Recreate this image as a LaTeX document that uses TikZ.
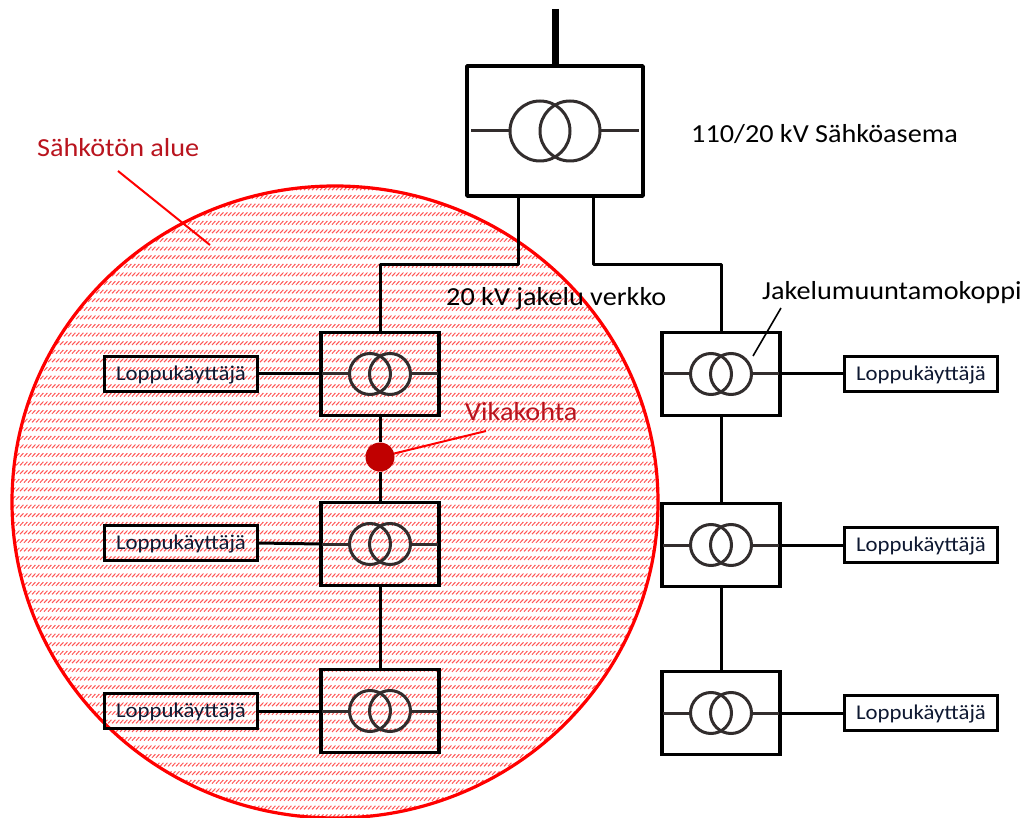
\documentclass[tikz,border=0pt]{standalone}
\usepackage{fontspec}
\setmainfont[FakeStretch=1.085]{Carlito}
\usetikzlibrary{patterns}
\definecolor{faultred}{RGB}{192,0,0}
\definecolor{hatchred}{RGB}{255,85,85}
\definecolor{labelred}{RGB}{185,20,30}
\definecolor{coil}{RGB}{50,45,45}
\definecolor{usertext}{RGB}{15,25,50}
\pgfdeclarepatternformonly{hatchrows}{\pgfqpoint{-0.5pt}{-0.5pt}}{\pgfqpoint{4.5pt}{8.2pt}}{\pgfqpoint{4pt}{8.6pt}}{%
  \pgfsetlinewidth{1pt}%
  \pgfpathmoveto{\pgfqpoint{0pt}{0pt}}%
  \pgfpathlineto{\pgfqpoint{3.4pt}{3.6pt}}%
  \pgfusepath{stroke}}
\tikzset{
  x=1pt,y=-1pt,
  station/.style={draw=black,line width=3.4pt,minimum width=176pt,minimum height=130pt,inner sep=0pt,line join=round},
  kiosk/.style={draw=black,line width=3.4pt,minimum width=118pt,minimum height=83pt,inner sep=0pt},
  user/.style={draw=black,line width=3.4pt,minimum width=153pt,minimum height=35pt,inner sep=0pt,font=\fontsize{21}{21}\selectfont,text=usertext,fill=white,text height=17pt,text depth=4pt},
  userr/.style={user,fill=none},
  wire/.style={draw=black,line width=3pt,line join=round},
  coilc/.style={draw=coil,line width=3pt,fill=none},
  redline/.style={draw=red,line width=2pt},
  biglabel/.style={font=\fontsize{26}{26}\selectfont,anchor=west,inner sep=0pt},
}
% #1 name, #2 radius, #3 half distance, #4 half-lead length
\newcommand{\xfmr}[4]{%
  \coordinate (#1l) at ([xshift=-#3pt]#1.center);
  \coordinate (#1r) at ([xshift=#3pt]#1.center);
  \draw[coilc] (#1l) circle[radius=#2pt];
  \draw[coilc] (#1r) circle[radius=#2pt];
  \draw[coilc] ([xshift=-#2pt]#1l) -- ([xshift=-#4pt]#1.center);
  \draw[coilc] ([xshift=#2pt]#1r) -- ([xshift=#4pt]#1.center);
}
\begin{document}
\begin{tikzpicture}
\useasboundingbox (0,0) rectangle (1029,818);
% area
\coordinate (areac) at (335,502);
\fill[white,postaction={pattern=hatchrows,pattern color=hatchred}] (areac) ellipse[x radius=323pt,y radius=316pt];
\draw[red,line width=3.2pt] (areac) ellipse[x radius=323pt,y radius=316pt];

% stations
\node[station] (ss) at (555,131) {};
\coordinate (feed) at (555,9);
\draw[black,line width=7pt] (feed) -- (ss.north);
\xfmr{ss}{30}{15}{84}

\node[kiosk] (a1) at (380,374) {};
\node[kiosk] (a2) at (380,544) {};
\node[kiosk] (a3) at (380,711) {};
\node[kiosk] (b1) at (721,374) {};
\node[kiosk] (b2) at (721,545) {};
\node[kiosk] (b3) at (721,713) {};
\foreach \n in {a1,a2,a3,b1,b2,b3}{\xfmr{\n}{20.5}{10}{58}}

\node[userr] (ua1) at (181,374) {Loppukäyttäjä};
\node[userr] (ua2) at (181,543) {Loppukäyttäjä};
\node[userr] (ua3) at (181,711) {Loppukäyttäjä};
\node[user] (ub1) at (921,374) {Loppukäyttäjä};
\node[user] (ub2) at (921,545) {Loppukäyttäjä};
\node[user] (ub3) at (921,713) {Loppukäyttäjä};

% feeders
\coordinate (ssa) at (518,197);
\coordinate (ssb) at (593,197);
\draw[wire] (ssa) -- (518,265) -- (380,265) -- (a1.north);
\draw[wire] (ssb) -- (593,265) -- (721,265) -- (b1.north);
\node[circle,fill=faultred,minimum size=29pt,inner sep=0pt] (fault) at (380,457) {};
\draw[wire] (a1.south) -- (fault);
\draw[wire] (fault) -- (a2.north);
\draw[wire] (a2.south) -- (a3.north);
\draw[wire] (b1.south) -- (b2.north);
\draw[wire] (b2.south) -- (b3.north);
\foreach \u/\k in {ua1/a1,ua2/a2,ua3/a3}{\draw[wire] (\u.east) -- (\k.west);}
\foreach \u/\k in {ub1/b1,ub2/b2,ub3/b3}{\draw[wire] (\k.east) -- (\u.west);}

% labels
\node[biglabel,text=labelred] (lalue) at (37,148) {Sähkötön alue};
\coordinate (alue1) at (118,171);
\coordinate (alue2) at (210,245);
\draw[redline] (alue1) -- (alue2);
\node[biglabel,text=labelred] (lvika) at (465,412) {Vikakohta};
\coordinate (vika1) at (486,431);
\draw[redline] (vika1) -- (fault);
\node[biglabel] (l110) at (691,134) {110/20 kV Sähköasema};
\node[biglabel] (l20) at (446,299) {20 kV jakelu verkko};
\node[biglabel] (ljak) at (762,293) {Jakelumuuntamokoppi};
\coordinate (jak1) at (781,308);
\coordinate (jak2) at (753,356);
\draw[black,line width=1.6pt] (jak1) -- (jak2);
\end{tikzpicture}
\end{document}
